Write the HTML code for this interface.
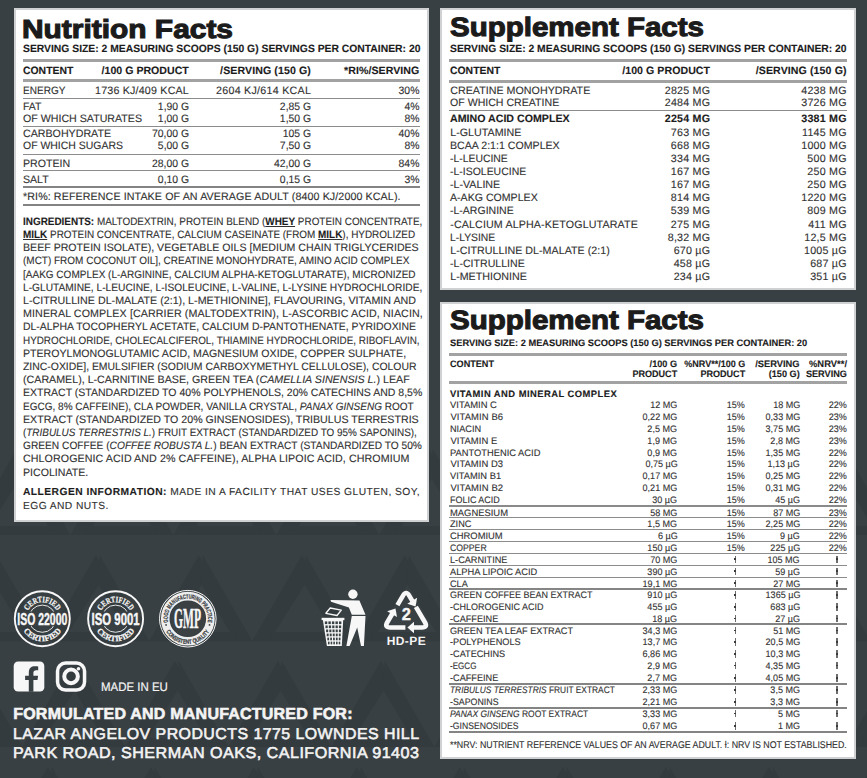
<!DOCTYPE html><html><head><meta charset="utf-8"><title>label</title><style>
*{margin:0;padding:0;box-sizing:border-box}
html,body{width:867px;height:778px;overflow:hidden;background:#394043}
body{position:relative;font-family:"Liberation Sans",sans-serif}
.p{position:absolute;background:#fff;border:2.3px solid #cfd1d2}
.t{position:absolute;white-space:nowrap;line-height:1;transform-origin:0 50%;text-rendering:geometricPrecision}
.t.r{transform-origin:100% 50%}
.t b{color:#1c1c1c}
.t u{text-decoration-thickness:1px;text-underline-offset:1px}
.l{position:absolute}
.dg{position:absolute;width:1.4px;height:7.4px;background:#6e6e6e}
.dg:after{content:"";position:absolute;left:-0.35px;top:2.9px;width:2.2px;height:1.5px;background:#3a3a3a}
svg{position:absolute;overflow:visible}
</style></head><body>
<svg width="867" height="778" viewBox="0 0 867 778" style="left:0;top:0">
<polygon points="16.8,449.0 -32.8,535.0 -15.8,535.0 27.3,466.5" fill="#343b3e"/>
<polygon points="20.8,449.0 70.4,535.0 53.4,535.0 18.8,477.3" fill="#343b3e"/>
<rect x="-15.8" y="526.0" width="69.2" height="9" fill="#343b3e"/>
<polygon points="119.8,449.0 70.2,535.0 87.2,535.0 130.3,466.5" fill="#343b3e"/>
<polygon points="123.8,449.0 173.4,535.0 156.4,535.0 121.8,477.3" fill="#343b3e"/>
<rect x="87.2" y="526.0" width="69.2" height="9" fill="#343b3e"/>
<polygon points="222.8,449.0 173.2,535.0 190.2,535.0 233.3,466.5" fill="#343b3e"/>
<polygon points="226.8,449.0 276.4,535.0 259.4,535.0 224.8,477.3" fill="#343b3e"/>
<rect x="190.2" y="526.0" width="69.2" height="9" fill="#343b3e"/>
<polygon points="325.8,449.0 276.2,535.0 293.2,535.0 336.3,466.5" fill="#343b3e"/>
<polygon points="329.8,449.0 379.4,535.0 362.4,535.0 327.8,477.3" fill="#343b3e"/>
<rect x="293.2" y="526.0" width="69.2" height="9" fill="#343b3e"/>
<polygon points="428.8,449.0 379.2,535.0 396.2,535.0 439.3,466.5" fill="#343b3e"/>
<polygon points="432.8,449.0 482.4,535.0 465.4,535.0 430.8,477.3" fill="#343b3e"/>
<rect x="396.2" y="526.0" width="69.2" height="9" fill="#343b3e"/>
<polygon points="531.8,449.0 482.2,535.0 499.2,535.0 542.3,466.5" fill="#343b3e"/>
<polygon points="535.8,449.0 585.4,535.0 568.4,535.0 533.8,477.3" fill="#343b3e"/>
<rect x="499.2" y="526.0" width="69.2" height="9" fill="#343b3e"/>
<polygon points="634.8,449.0 585.2,535.0 602.2,535.0 645.3,466.5" fill="#343b3e"/>
<polygon points="638.8,449.0 688.4,535.0 671.4,535.0 636.8,477.3" fill="#343b3e"/>
<rect x="602.2" y="526.0" width="69.2" height="9" fill="#343b3e"/>
<polygon points="737.8,449.0 688.2,535.0 705.2,535.0 748.3,466.5" fill="#343b3e"/>
<polygon points="741.8,449.0 791.4,535.0 774.4,535.0 739.8,477.3" fill="#343b3e"/>
<rect x="705.2" y="526.0" width="69.2" height="9" fill="#343b3e"/>
<polygon points="840.8,449.0 791.2,535.0 808.2,535.0 851.3,466.5" fill="#343b3e"/>
<polygon points="844.8,449.0 894.4,535.0 877.4,535.0 842.8,477.3" fill="#343b3e"/>
<rect x="808.2" y="526.0" width="69.2" height="9" fill="#343b3e"/>
<polygon points="-7.2,555.2 -56.8,641.2 -39.8,641.2 3.3,572.7" fill="#343b3e"/>
<polygon points="-3.2,555.2 46.4,641.2 29.4,641.2 -5.2,583.5" fill="#343b3e"/>
<rect x="-39.8" y="632.2" width="69.2" height="9" fill="#343b3e"/>
<polygon points="95.8,555.2 46.2,641.2 63.2,641.2 106.3,572.7" fill="#343b3e"/>
<polygon points="99.8,555.2 149.4,641.2 132.4,641.2 97.8,583.5" fill="#343b3e"/>
<rect x="63.2" y="632.2" width="69.2" height="9" fill="#343b3e"/>
<polygon points="198.8,555.2 149.2,641.2 166.2,641.2 209.3,572.7" fill="#343b3e"/>
<polygon points="202.8,555.2 252.4,641.2 235.4,641.2 200.8,583.5" fill="#343b3e"/>
<rect x="166.2" y="632.2" width="69.2" height="9" fill="#343b3e"/>
<polygon points="301.8,555.2 252.2,641.2 269.2,641.2 312.3,572.7" fill="#343b3e"/>
<polygon points="305.8,555.2 355.4,641.2 338.4,641.2 303.8,583.5" fill="#343b3e"/>
<rect x="269.2" y="632.2" width="69.2" height="9" fill="#343b3e"/>
<polygon points="404.8,555.2 355.2,641.2 372.2,641.2 415.3,572.7" fill="#343b3e"/>
<polygon points="408.8,555.2 458.4,641.2 441.4,641.2 406.8,583.5" fill="#343b3e"/>
<rect x="372.2" y="632.2" width="69.2" height="9" fill="#343b3e"/>
<polygon points="507.8,555.2 458.2,641.2 475.2,641.2 518.3,572.7" fill="#343b3e"/>
<polygon points="511.8,555.2 561.4,641.2 544.4,641.2 509.8,583.5" fill="#343b3e"/>
<rect x="475.2" y="632.2" width="69.2" height="9" fill="#343b3e"/>
<polygon points="610.8,555.2 561.2,641.2 578.2,641.2 621.3,572.7" fill="#343b3e"/>
<polygon points="614.8,555.2 664.4,641.2 647.4,641.2 612.8,583.5" fill="#343b3e"/>
<rect x="578.2" y="632.2" width="69.2" height="9" fill="#343b3e"/>
<polygon points="713.8,555.2 664.2,641.2 681.2,641.2 724.3,572.7" fill="#343b3e"/>
<polygon points="717.8,555.2 767.4,641.2 750.4,641.2 715.8,583.5" fill="#343b3e"/>
<rect x="681.2" y="632.2" width="69.2" height="9" fill="#343b3e"/>
<polygon points="816.8,555.2 767.2,641.2 784.2,641.2 827.3,572.7" fill="#343b3e"/>
<polygon points="820.8,555.2 870.4,641.2 853.4,641.2 818.8,583.5" fill="#343b3e"/>
<rect x="784.2" y="632.2" width="69.2" height="9" fill="#343b3e"/>
<polygon points="919.8,555.2 870.2,641.2 887.2,641.2 930.3,572.7" fill="#343b3e"/>
<polygon points="923.8,555.2 973.4,641.2 956.4,641.2 921.8,583.5" fill="#343b3e"/>
<rect x="887.2" y="632.2" width="69.2" height="9" fill="#343b3e"/>
<polygon points="-31.2,661.0 -80.8,747.0 -63.8,747.0 -20.7,678.5" fill="#343b3e"/>
<polygon points="-27.2,661.0 22.4,747.0 5.4,747.0 -29.2,689.3" fill="#343b3e"/>
<rect x="-63.8" y="738.0" width="69.2" height="9" fill="#343b3e"/>
<polygon points="71.8,661.0 22.2,747.0 39.2,747.0 82.3,678.5" fill="#343b3e"/>
<polygon points="75.8,661.0 125.4,747.0 108.4,747.0 73.8,689.3" fill="#343b3e"/>
<rect x="39.2" y="738.0" width="69.2" height="9" fill="#343b3e"/>
<polygon points="174.8,661.0 125.2,747.0 142.2,747.0 185.3,678.5" fill="#343b3e"/>
<polygon points="178.8,661.0 228.4,747.0 211.4,747.0 176.8,689.3" fill="#343b3e"/>
<rect x="142.2" y="738.0" width="69.2" height="9" fill="#343b3e"/>
<polygon points="277.8,661.0 228.2,747.0 245.2,747.0 288.3,678.5" fill="#343b3e"/>
<polygon points="281.8,661.0 331.4,747.0 314.4,747.0 279.8,689.3" fill="#343b3e"/>
<rect x="245.2" y="738.0" width="69.2" height="9" fill="#343b3e"/>
<polygon points="380.8,661.0 331.2,747.0 348.2,747.0 391.3,678.5" fill="#343b3e"/>
<polygon points="384.8,661.0 434.4,747.0 417.4,747.0 382.8,689.3" fill="#343b3e"/>
<rect x="348.2" y="738.0" width="69.2" height="9" fill="#343b3e"/>
<polygon points="483.8,661.0 434.2,747.0 451.2,747.0 494.3,678.5" fill="#343b3e"/>
<polygon points="487.8,661.0 537.4,747.0 520.4,747.0 485.8,689.3" fill="#343b3e"/>
<rect x="451.2" y="738.0" width="69.2" height="9" fill="#343b3e"/>
<polygon points="586.8,661.0 537.2,747.0 554.2,747.0 597.3,678.5" fill="#343b3e"/>
<polygon points="590.8,661.0 640.4,747.0 623.4,747.0 588.8,689.3" fill="#343b3e"/>
<rect x="554.2" y="738.0" width="69.2" height="9" fill="#343b3e"/>
<polygon points="689.8,661.0 640.2,747.0 657.2,747.0 700.3,678.5" fill="#343b3e"/>
<polygon points="693.8,661.0 743.4,747.0 726.4,747.0 691.8,689.3" fill="#343b3e"/>
<rect x="657.2" y="738.0" width="69.2" height="9" fill="#343b3e"/>
<polygon points="792.8,661.0 743.2,747.0 760.2,747.0 803.3,678.5" fill="#343b3e"/>
<polygon points="796.8,661.0 846.4,747.0 829.4,747.0 794.8,689.3" fill="#343b3e"/>
<rect x="760.2" y="738.0" width="69.2" height="9" fill="#343b3e"/>
<polygon points="895.8,661.0 846.2,747.0 863.2,747.0 906.3,678.5" fill="#343b3e"/>
<polygon points="899.8,661.0 949.4,747.0 932.4,747.0 897.8,689.3" fill="#343b3e"/>
<rect x="863.2" y="738.0" width="69.2" height="9" fill="#343b3e"/>
<polygon points="-55.2,767.0 -104.8,853.0 -87.8,853.0 -44.7,784.5" fill="#343b3e"/>
<polygon points="-51.2,767.0 -1.6,853.0 -18.6,853.0 -53.2,795.3" fill="#343b3e"/>
<rect x="-87.8" y="844.0" width="69.2" height="9" fill="#343b3e"/>
<polygon points="47.8,767.0 -1.8,853.0 15.2,853.0 58.3,784.5" fill="#343b3e"/>
<polygon points="51.8,767.0 101.4,853.0 84.4,853.0 49.8,795.3" fill="#343b3e"/>
<rect x="15.2" y="844.0" width="69.2" height="9" fill="#343b3e"/>
<polygon points="150.8,767.0 101.2,853.0 118.2,853.0 161.3,784.5" fill="#343b3e"/>
<polygon points="154.8,767.0 204.4,853.0 187.4,853.0 152.8,795.3" fill="#343b3e"/>
<rect x="118.2" y="844.0" width="69.2" height="9" fill="#343b3e"/>
<polygon points="253.8,767.0 204.2,853.0 221.2,853.0 264.3,784.5" fill="#343b3e"/>
<polygon points="257.8,767.0 307.4,853.0 290.4,853.0 255.8,795.3" fill="#343b3e"/>
<rect x="221.2" y="844.0" width="69.2" height="9" fill="#343b3e"/>
<polygon points="356.8,767.0 307.2,853.0 324.2,853.0 367.3,784.5" fill="#343b3e"/>
<polygon points="360.8,767.0 410.4,853.0 393.4,853.0 358.8,795.3" fill="#343b3e"/>
<rect x="324.2" y="844.0" width="69.2" height="9" fill="#343b3e"/>
<polygon points="459.8,767.0 410.2,853.0 427.2,853.0 470.3,784.5" fill="#343b3e"/>
<polygon points="463.8,767.0 513.4,853.0 496.4,853.0 461.8,795.3" fill="#343b3e"/>
<rect x="427.2" y="844.0" width="69.2" height="9" fill="#343b3e"/>
<polygon points="562.8,767.0 513.2,853.0 530.2,853.0 573.3,784.5" fill="#343b3e"/>
<polygon points="566.8,767.0 616.4,853.0 599.4,853.0 564.8,795.3" fill="#343b3e"/>
<rect x="530.2" y="844.0" width="69.2" height="9" fill="#343b3e"/>
<polygon points="665.8,767.0 616.2,853.0 633.2,853.0 676.3,784.5" fill="#343b3e"/>
<polygon points="669.8,767.0 719.4,853.0 702.4,853.0 667.8,795.3" fill="#343b3e"/>
<rect x="633.2" y="844.0" width="69.2" height="9" fill="#343b3e"/>
<polygon points="768.8,767.0 719.2,853.0 736.2,853.0 779.3,784.5" fill="#343b3e"/>
<polygon points="772.8,767.0 822.4,853.0 805.4,853.0 770.8,795.3" fill="#343b3e"/>
<rect x="736.2" y="844.0" width="69.2" height="9" fill="#343b3e"/>
<polygon points="871.8,767.0 822.2,853.0 839.2,853.0 882.3,784.5" fill="#343b3e"/>
<polygon points="875.8,767.0 925.4,853.0 908.4,853.0 873.8,795.3" fill="#343b3e"/>
<rect x="839.2" y="844.0" width="69.2" height="9" fill="#343b3e"/>
</svg>
<div class="p" style="left:13.8px;top:8.4px;width:415.2px;height:513.4px"></div>
<div class="p" style="left:440.4px;top:8.4px;width:415.8px;height:281.2px"></div>
<div class="p" style="left:440.4px;top:301.6px;width:415.8px;height:457.0px"></div>
<div class="l" style="left:22.60px;top:58.90px;width:397.80px;height:3.00px;background:#a2a2a2"></div>
<div class="l" style="left:22.60px;top:79.30px;width:397.80px;height:3.00px;background:#a2a2a2"></div>
<div class="l" style="left:22.60px;top:97.70px;width:397.80px;height:1.00px;background:#8c8c8c"></div>
<div class="l" style="left:22.60px;top:126.00px;width:397.80px;height:1.00px;background:#8c8c8c"></div>
<div class="l" style="left:22.60px;top:154.20px;width:397.80px;height:1.00px;background:#8c8c8c"></div>
<div class="l" style="left:22.60px;top:170.20px;width:397.80px;height:1.00px;background:#8c8c8c"></div>
<div class="l" style="left:22.60px;top:186.30px;width:397.80px;height:1.80px;background:#848484"></div>
<div class="l" style="left:22.60px;top:204.30px;width:397.80px;height:1.80px;background:#848484"></div>
<div class="l" style="left:449.30px;top:58.70px;width:397.70px;height:3.00px;background:#a2a2a2"></div>
<div class="l" style="left:449.30px;top:79.80px;width:397.70px;height:3.00px;background:#a2a2a2"></div>
<div class="l" style="left:449.30px;top:110.10px;width:397.70px;height:1.00px;background:#8c8c8c"></div>
<div class="l" style="left:449.30px;top:352.50px;width:397.70px;height:3.00px;background:#a2a2a2"></div>
<div class="l" style="left:449.30px;top:381.00px;width:397.70px;height:3.00px;background:#a2a2a2"></div>
<div class="l" style="left:449.30px;top:505.45px;width:397.70px;height:1.50px;background:#8a8a8a"></div>
<div class="l" style="left:449.30px;top:517.45px;width:397.70px;height:1.00px;background:#8c8c8c"></div>
<div class="l" style="left:449.30px;top:529.15px;width:397.70px;height:1.00px;background:#8c8c8c"></div>
<div class="l" style="left:449.30px;top:541.20px;width:397.70px;height:1.00px;background:#8c8c8c"></div>
<div class="l" style="left:449.30px;top:553.00px;width:397.70px;height:1.00px;background:#8c8c8c"></div>
<div class="l" style="left:449.30px;top:564.95px;width:397.70px;height:1.00px;background:#8c8c8c"></div>
<div class="l" style="left:449.30px;top:576.80px;width:397.70px;height:1.00px;background:#8c8c8c"></div>
<div class="l" style="left:449.30px;top:588.45px;width:397.70px;height:1.60px;background:#858585"></div>
<div class="l" style="left:449.30px;top:623.40px;width:397.70px;height:1.80px;background:#848484"></div>
<div class="l" style="left:449.30px;top:683.20px;width:397.70px;height:1.80px;background:#848484"></div>
<div class="l" style="left:449.30px;top:707.30px;width:397.70px;height:1.80px;background:#848484"></div>
<div class="l" style="left:449.30px;top:730.90px;width:397.70px;height:2.40px;background:#848484"></div>
<div class="t" id="t0" style="top:16.00px;font-size:26.2px;color:#1b1b1b;font-weight:700;-webkit-text-stroke:1.1px #1b1b1b;left:22.40px;transform:scaleX(1.1419)">Nutrition Facts</div>
<div class="t" id="t1" style="top:44.00px;font-size:10.5px;color:#1c1c1c;font-weight:700;-webkit-text-stroke:0.12px #1c1c1c;left:23.00px;transform:scaleX(0.9857)">SERVING SIZE: 2 MEASURING SCOOPS (150 G) SERVINGS PER CONTAINER: 20</div>
<div class="t" id="t2" style="top:66.00px;font-size:10.6px;color:#1c1c1c;font-weight:700;-webkit-text-stroke:0.12px #1c1c1c;left:23.00px;transform:scaleX(0.9824)">CONTENT</div>
<div class="t r" id="t3" style="top:66.00px;font-size:10.6px;color:#1c1c1c;font-weight:700;-webkit-text-stroke:0.12px #1c1c1c;letter-spacing:0.006px;right:678.19px">/100 G PRODUCT</div>
<div class="t r" id="t4" style="top:66.00px;font-size:10.6px;color:#1c1c1c;font-weight:700;-webkit-text-stroke:0.12px #1c1c1c;letter-spacing:0.100px;right:556.00px">/SERVING (150 G)</div>
<div class="t r" id="t5" style="top:66.00px;font-size:10.6px;color:#1c1c1c;font-weight:700;-webkit-text-stroke:0.12px #1c1c1c;letter-spacing:0.066px;right:447.63px">*RI%/SERVING</div>
<div class="t" id="t6" style="top:86.00px;font-size:10.7px;color:#313131;-webkit-text-stroke:0.12px #313131;left:23.00px;transform:scaleX(0.9393)">ENERGY</div>
<div class="t r" id="t7" style="top:86.00px;font-size:10.7px;color:#313131;-webkit-text-stroke:0.12px #313131;letter-spacing:0.192px;right:678.01px">1736 KJ/409 KCAL</div>
<div class="t r" id="t8" style="top:86.00px;font-size:10.7px;color:#313131;-webkit-text-stroke:0.12px #313131;letter-spacing:0.265px;right:555.83px">2604 KJ/614 KCAL</div>
<div class="t r" id="t9" style="top:86.00px;font-size:10.7px;color:#313131;-webkit-text-stroke:0.12px #313131;right:447.70px;transform:scaleX(0.9738)">30%</div>
<div class="t" id="t10" style="top:102.00px;font-size:10.7px;color:#313131;-webkit-text-stroke:0.12px #313131;left:23.00px;transform:scaleX(0.9781)">FAT</div>
<div class="t r" id="t11" style="top:102.00px;font-size:10.7px;color:#313131;-webkit-text-stroke:0.12px #313131;right:678.20px;transform:scaleX(0.9738)">1,90 G</div>
<div class="t r" id="t12" style="top:102.00px;font-size:10.7px;color:#313131;-webkit-text-stroke:0.12px #313131;right:556.10px;transform:scaleX(0.9738)">2,85 G</div>
<div class="t r" id="t13" style="top:102.00px;font-size:10.7px;color:#313131;-webkit-text-stroke:0.12px #313131;right:447.70px;transform:scaleX(0.9738)">4%</div>
<div class="t" id="t14" style="top:114.00px;font-size:10.7px;color:#313131;-webkit-text-stroke:0.12px #313131;left:23.00px;transform:scaleX(0.9954)">OF WHICH SATURATES</div>
<div class="t r" id="t15" style="top:114.00px;font-size:10.7px;color:#313131;-webkit-text-stroke:0.12px #313131;right:678.20px;transform:scaleX(0.9738)">1,00 G</div>
<div class="t r" id="t16" style="top:114.00px;font-size:10.7px;color:#313131;-webkit-text-stroke:0.12px #313131;right:556.10px;transform:scaleX(0.9738)">1,50 G</div>
<div class="t r" id="t17" style="top:114.00px;font-size:10.7px;color:#313131;-webkit-text-stroke:0.12px #313131;right:447.70px;transform:scaleX(0.9738)">8%</div>
<div class="t" id="t18" style="top:129.00px;font-size:10.7px;color:#313131;-webkit-text-stroke:0.12px #313131;left:23.00px;transform:scaleX(0.9968)">CARBOHYDRATE</div>
<div class="t r" id="t19" style="top:129.00px;font-size:10.7px;color:#313131;-webkit-text-stroke:0.12px #313131;right:678.20px;transform:scaleX(0.9738)">70,00 G</div>
<div class="t r" id="t20" style="top:129.00px;font-size:10.7px;color:#313131;-webkit-text-stroke:0.12px #313131;right:556.10px;transform:scaleX(0.9738)">105 G</div>
<div class="t r" id="t21" style="top:129.00px;font-size:10.7px;color:#313131;-webkit-text-stroke:0.12px #313131;right:447.70px;transform:scaleX(0.9738)">40%</div>
<div class="t" id="t22" style="top:141.00px;font-size:10.7px;color:#313131;-webkit-text-stroke:0.12px #313131;left:23.00px;transform:scaleX(0.9790)">OF WHICH SUGARS</div>
<div class="t r" id="t23" style="top:141.00px;font-size:10.7px;color:#313131;-webkit-text-stroke:0.12px #313131;right:678.20px;transform:scaleX(0.9738)">5,00 G</div>
<div class="t r" id="t24" style="top:141.00px;font-size:10.7px;color:#313131;-webkit-text-stroke:0.12px #313131;right:556.10px;transform:scaleX(0.9738)">7,50 G</div>
<div class="t r" id="t25" style="top:141.00px;font-size:10.7px;color:#313131;-webkit-text-stroke:0.12px #313131;right:447.70px;transform:scaleX(0.9738)">8%</div>
<div class="t" id="t26" style="top:159.00px;font-size:10.7px;color:#313131;-webkit-text-stroke:0.12px #313131;left:23.00px;transform:scaleX(0.9934)">PROTEIN</div>
<div class="t r" id="t27" style="top:159.00px;font-size:10.7px;color:#313131;-webkit-text-stroke:0.12px #313131;right:678.20px;transform:scaleX(0.9738)">28,00 G</div>
<div class="t r" id="t28" style="top:159.00px;font-size:10.7px;color:#313131;-webkit-text-stroke:0.12px #313131;right:556.10px;transform:scaleX(0.9738)">42,00 G</div>
<div class="t r" id="t29" style="top:159.00px;font-size:10.7px;color:#313131;-webkit-text-stroke:0.12px #313131;right:447.70px;transform:scaleX(0.9738)">84%</div>
<div class="t" id="t30" style="top:175.00px;font-size:10.7px;color:#313131;-webkit-text-stroke:0.12px #313131;left:23.00px;transform:scaleX(0.9870)">SALT</div>
<div class="t r" id="t31" style="top:175.00px;font-size:10.7px;color:#313131;-webkit-text-stroke:0.12px #313131;right:678.20px;transform:scaleX(0.9738)">0,10 G</div>
<div class="t r" id="t32" style="top:175.00px;font-size:10.7px;color:#313131;-webkit-text-stroke:0.12px #313131;right:556.10px;transform:scaleX(0.9738)">0,15 G</div>
<div class="t r" id="t33" style="top:175.00px;font-size:10.7px;color:#313131;-webkit-text-stroke:0.12px #313131;right:447.70px;transform:scaleX(0.9738)">3%</div>
<div class="t" id="t34" style="top:192.00px;font-size:10.7px;color:#313131;-webkit-text-stroke:0.12px #313131;letter-spacing:0.095px;left:23.00px">*RI%: REFERENCE INTAKE OF AN AVERAGE ADULT (8400 KJ/2000 KCAL).</div>
<div class="t" id="t35" style="top:217.00px;font-size:10.7px;color:#313131;-webkit-text-stroke:0.12px #313131;left:23.00px;transform:scaleX(0.9287)"><b>INGREDIENTS:</b> MALTODEXTRIN, PROTEIN BLEND (<b><u>WHEY</u></b> PROTEIN CONCENTRATE,</div>
<div class="t" id="t36" style="top:230.00px;font-size:10.7px;color:#313131;-webkit-text-stroke:0.12px #313131;left:23.00px;transform:scaleX(0.9283)"><b><u>MILK</u></b> PROTEIN CONCENTRATE, CALCIUM CASEINATE (FROM <b><u>MILK</u></b>), HYDROLIZED</div>
<div class="t" id="t37" style="top:243.00px;font-size:10.7px;color:#313131;-webkit-text-stroke:0.12px #313131;left:23.00px;transform:scaleX(0.9920)">BEEF PROTEIN ISOLATE), VEGETABLE OILS [MEDIUM CHAIN TRIGLYCERIDES</div>
<div class="t" id="t38" style="top:256.00px;font-size:10.7px;color:#313131;-webkit-text-stroke:0.12px #313131;left:23.00px;transform:scaleX(0.9336)">(MCT) FROM COCONUT OIL], CREATINE MONOHYDRATE, AMINO ACID COMPLEX</div>
<div class="t" id="t39" style="top:270.00px;font-size:10.7px;color:#313131;-webkit-text-stroke:0.12px #313131;left:23.00px;transform:scaleX(0.9364)">[AAKG COMPLEX (L-ARGININE, CALCIUM ALPHA-KETOGLUTARATE), MICRONIZED</div>
<div class="t" id="t40" style="top:283.00px;font-size:10.7px;color:#313131;-webkit-text-stroke:0.12px #313131;left:23.00px;transform:scaleX(0.9550)">L-GLUTAMINE, L-LEUCINE, L-ISOLEUCINE, L-VALINE, L-LYSINE HYDROCHLORIDE,</div>
<div class="t" id="t41" style="top:296.00px;font-size:10.7px;color:#313131;-webkit-text-stroke:0.12px #313131;letter-spacing:0.007px;left:23.00px">L-CITRULLINE DL-MALATE (2:1), L-METHIONINE], FLAVOURING, VITAMIN AND</div>
<div class="t" id="t42" style="top:309.00px;font-size:10.7px;color:#313131;-webkit-text-stroke:0.12px #313131;letter-spacing:0.098px;left:23.00px">MINERAL COMPLEX [CARRIER (MALTODEXTRIN), L-ASCORBIC ACID, NIACIN,</div>
<div class="t" id="t43" style="top:322.00px;font-size:10.7px;color:#313131;-webkit-text-stroke:0.12px #313131;left:23.00px;transform:scaleX(0.9765)">DL-ALPHA TOCOPHERYL ACETATE, CALCIUM D-PANTOTHENATE, PYRIDOXINE</div>
<div class="t" id="t44" style="top:336.00px;font-size:10.7px;color:#313131;-webkit-text-stroke:0.12px #313131;left:23.00px;transform:scaleX(0.9245)">HYDROCHLORIDE, CHOLECALCIFEROL, THIAMINE HYDROCHLORIDE, RIBOFLAVIN,</div>
<div class="t" id="t45" style="top:349.00px;font-size:10.7px;color:#313131;-webkit-text-stroke:0.12px #313131;left:23.00px;transform:scaleX(0.9920)">PTEROYLMONOGLUTAMIC ACID, MAGNESIUM OXIDE, COPPER SULPHATE,</div>
<div class="t" id="t46" style="top:362.00px;font-size:10.7px;color:#313131;-webkit-text-stroke:0.12px #313131;left:23.00px;transform:scaleX(0.9754)">ZINC-OXIDE], EMULSIFIER (SODIUM CARBOXYMETHYL CELLULOSE), COLOUR</div>
<div class="t" id="t47" style="top:375.00px;font-size:10.7px;color:#313131;-webkit-text-stroke:0.12px #313131;left:23.00px;transform:scaleX(0.9986)">(CARAMEL), L-CARNITINE BASE, GREEN TEA (<i>CAMELLIA SINENSIS L.</i>) LEAF</div>
<div class="t" id="t48" style="top:388.00px;font-size:10.7px;color:#313131;-webkit-text-stroke:0.12px #313131;left:23.00px;transform:scaleX(0.9844)">EXTRACT (STANDARDIZED TO 40% POLYPHENOLS, 20% CATECHINS AND 8,5%</div>
<div class="t" id="t49" style="top:402.00px;font-size:10.7px;color:#313131;-webkit-text-stroke:0.12px #313131;left:23.00px;transform:scaleX(0.9376)">EGCG, 8% CAFFEINE), CLA POWDER, VANILLA CRYSTAL, <i>PANAX GINSENG</i> ROOT</div>
<div class="t" id="t50" style="top:415.00px;font-size:10.7px;color:#313131;-webkit-text-stroke:0.12px #313131;left:23.00px;transform:scaleX(0.9960)">EXTRACT (STANDARDIZED TO 20% GINSENOSIDES), TRIBULUS TERRESTRIS</div>
<div class="t" id="t51" style="top:428.00px;font-size:10.7px;color:#313131;-webkit-text-stroke:0.12px #313131;left:23.00px;transform:scaleX(0.9272)">(<i>TRIBULUS TERRESTRIS L.</i>) FRUIT EXTRACT (STANDARDIZED TO 95% SAPONINS),</div>
<div class="t" id="t52" style="top:441.00px;font-size:10.7px;color:#313131;-webkit-text-stroke:0.12px #313131;left:23.00px;transform:scaleX(0.9532)">GREEN COFFEE (<i>COFFEE ROBUSTA L.</i>) BEAN EXTRACT (STANDARDIZED TO 50%</div>
<div class="t" id="t53" style="top:454.00px;font-size:10.7px;color:#313131;-webkit-text-stroke:0.12px #313131;letter-spacing:0.074px;left:23.00px">CHLOROGENIC ACID AND 2% CAFFEINE), ALPHA LIPOIC ACID, CHROMIUM</div>
<div class="t" id="t54" style="top:468.00px;font-size:10.7px;color:#313131;-webkit-text-stroke:0.12px #313131;left:23.00px;transform:scaleX(0.9919)">PICOLINATE.</div>
<div class="t" id="t55" style="top:488.00px;font-size:10.25px;color:#313131;-webkit-text-stroke:0.12px #313131;letter-spacing:0.450px;left:23.00px;transform:scaleX(1.0020)"><b>ALLERGEN INFORMATION:</b> MADE IN A FACILITY THAT USES GLUTEN, SOY,</div>
<div class="t" id="t56" style="top:502.00px;font-size:10.25px;color:#313131;-webkit-text-stroke:0.12px #313131;letter-spacing:0.416px;left:23.00px">EGG AND NUTS.</div>
<div class="t" id="t57" style="top:14.00px;font-size:26.6px;color:#1b1b1b;font-weight:700;-webkit-text-stroke:1.1px #1b1b1b;left:450.00px;transform:scaleX(1.1089)">Supplement Facts</div>
<div class="t" id="t58" style="top:44.00px;font-size:10.5px;color:#1c1c1c;font-weight:700;-webkit-text-stroke:0.12px #1c1c1c;left:450.20px;transform:scaleX(0.9837)">SERVING SIZE: 2 MEASURING SCOOPS (150 G) SERVINGS PER CONTAINER: 20</div>
<div class="t" id="t59" style="top:66.00px;font-size:10.6px;color:#1c1c1c;font-weight:700;-webkit-text-stroke:0.12px #1c1c1c;left:450.20px;transform:scaleX(0.9824)">CONTENT</div>
<div class="t r" id="t60" style="top:66.00px;font-size:10.6px;color:#1c1c1c;font-weight:700;-webkit-text-stroke:0.12px #1c1c1c;letter-spacing:0.052px;right:156.95px">/100 G PRODUCT</div>
<div class="t r" id="t61" style="top:66.00px;font-size:10.6px;color:#1c1c1c;font-weight:700;-webkit-text-stroke:0.12px #1c1c1c;letter-spacing:0.100px;right:20.40px">/SERVING (150 G)</div>
<div class="t" id="t62" style="top:86.00px;font-size:10.7px;color:#313131;-webkit-text-stroke:0.12px #313131;letter-spacing:0.019px;left:450.20px">CREATINE MONOHYDRATE</div>
<div class="t r" id="t63" style="top:86.00px;font-size:10.7px;color:#313131;-webkit-text-stroke:0.12px #313131;letter-spacing:0.220px;right:156.78px">2825 MG</div>
<div class="t r" id="t64" style="top:86.00px;font-size:10.7px;color:#313131;-webkit-text-stroke:0.12px #313131;letter-spacing:0.220px;right:20.28px">4238 MG</div>
<div class="t" id="t65" style="top:98.00px;font-size:10.7px;color:#313131;-webkit-text-stroke:0.12px #313131;left:450.20px;transform:scaleX(0.9905)">OF WHICH CREATINE</div>
<div class="t r" id="t66" style="top:98.00px;font-size:10.7px;color:#313131;-webkit-text-stroke:0.12px #313131;letter-spacing:0.220px;right:156.78px">2484 MG</div>
<div class="t r" id="t67" style="top:98.00px;font-size:10.7px;color:#313131;-webkit-text-stroke:0.12px #313131;letter-spacing:0.220px;right:20.28px">3726 MG</div>
<div class="t" id="t68" style="top:114.00px;font-size:10.7px;color:#1c1c1c;font-weight:700;-webkit-text-stroke:0.12px #1c1c1c;left:450.20px;transform:scaleX(0.9955)">AMINO ACID COMPLEX</div>
<div class="t r" id="t69" style="top:114.00px;font-size:10.7px;color:#1c1c1c;font-weight:700;-webkit-text-stroke:0.12px #1c1c1c;letter-spacing:0.220px;right:156.78px">2254 MG</div>
<div class="t r" id="t70" style="top:114.00px;font-size:10.7px;color:#1c1c1c;font-weight:700;-webkit-text-stroke:0.12px #1c1c1c;letter-spacing:0.220px;right:20.28px">3381 MG</div>
<div class="t" id="t71" style="top:128.00px;font-size:10.7px;color:#313131;-webkit-text-stroke:0.12px #313131;letter-spacing:0.014px;left:450.20px">L-GLUTAMINE</div>
<div class="t r" id="t72" style="top:128.00px;font-size:10.7px;color:#313131;-webkit-text-stroke:0.12px #313131;letter-spacing:0.228px;right:156.77px">763 MG</div>
<div class="t r" id="t73" style="top:128.00px;font-size:10.7px;color:#313131;-webkit-text-stroke:0.12px #313131;letter-spacing:0.216px;right:20.28px">1145 MG</div>
<div class="t" id="t74" style="top:141.00px;font-size:10.7px;color:#313131;-webkit-text-stroke:0.12px #313131;left:450.20px;transform:scaleX(0.9928)">BCAA 2:1:1 COMPLEX</div>
<div class="t r" id="t75" style="top:141.00px;font-size:10.7px;color:#313131;-webkit-text-stroke:0.12px #313131;letter-spacing:0.228px;right:156.77px">668 MG</div>
<div class="t r" id="t76" style="top:141.00px;font-size:10.7px;color:#313131;-webkit-text-stroke:0.12px #313131;letter-spacing:0.220px;right:20.28px">1000 MG</div>
<div class="t" id="t77" style="top:154.00px;font-size:10.7px;color:#313131;-webkit-text-stroke:0.12px #313131;left:450.20px;transform:scaleX(0.9715)">-L-LEUCINE</div>
<div class="t r" id="t78" style="top:154.00px;font-size:10.7px;color:#313131;-webkit-text-stroke:0.12px #313131;letter-spacing:0.228px;right:156.77px">334 MG</div>
<div class="t r" id="t79" style="top:154.00px;font-size:10.7px;color:#313131;-webkit-text-stroke:0.12px #313131;letter-spacing:0.228px;right:20.27px">500 MG</div>
<div class="t" id="t80" style="top:167.00px;font-size:10.7px;color:#313131;-webkit-text-stroke:0.12px #313131;left:450.20px;transform:scaleX(0.9793)">-L-ISOLEUCINE</div>
<div class="t r" id="t81" style="top:167.00px;font-size:10.7px;color:#313131;-webkit-text-stroke:0.12px #313131;letter-spacing:0.228px;right:156.77px">167 MG</div>
<div class="t r" id="t82" style="top:167.00px;font-size:10.7px;color:#313131;-webkit-text-stroke:0.12px #313131;letter-spacing:0.228px;right:20.27px">250 MG</div>
<div class="t" id="t83" style="top:180.00px;font-size:10.7px;color:#313131;-webkit-text-stroke:0.12px #313131;left:450.20px;transform:scaleX(0.9981)">-L-VALINE</div>
<div class="t r" id="t84" style="top:180.00px;font-size:10.7px;color:#313131;-webkit-text-stroke:0.12px #313131;letter-spacing:0.228px;right:156.77px">167 MG</div>
<div class="t r" id="t85" style="top:180.00px;font-size:10.7px;color:#313131;-webkit-text-stroke:0.12px #313131;letter-spacing:0.228px;right:20.27px">250 MG</div>
<div class="t" id="t86" style="top:193.00px;font-size:10.7px;color:#313131;-webkit-text-stroke:0.12px #313131;left:450.20px;transform:scaleX(0.9910)">A-AKG COMPLEX</div>
<div class="t r" id="t87" style="top:193.00px;font-size:10.7px;color:#313131;-webkit-text-stroke:0.12px #313131;letter-spacing:0.228px;right:156.77px">814 MG</div>
<div class="t r" id="t88" style="top:193.00px;font-size:10.7px;color:#313131;-webkit-text-stroke:0.12px #313131;letter-spacing:0.220px;right:20.28px">1220 MG</div>
<div class="t" id="t89" style="top:206.00px;font-size:10.7px;color:#313131;-webkit-text-stroke:0.12px #313131;left:450.20px;transform:scaleX(0.9840)">-L-ARGININE</div>
<div class="t r" id="t90" style="top:206.00px;font-size:10.7px;color:#313131;-webkit-text-stroke:0.12px #313131;letter-spacing:0.228px;right:156.77px">539 MG</div>
<div class="t r" id="t91" style="top:206.00px;font-size:10.7px;color:#313131;-webkit-text-stroke:0.12px #313131;letter-spacing:0.228px;right:20.27px">809 MG</div>
<div class="t" id="t92" style="top:220.00px;font-size:10.7px;color:#313131;-webkit-text-stroke:0.12px #313131;letter-spacing:0.129px;left:450.20px">-CALCIUM ALPHA-KETOGLUTARATE</div>
<div class="t r" id="t93" style="top:220.00px;font-size:10.7px;color:#313131;-webkit-text-stroke:0.12px #313131;letter-spacing:0.228px;right:156.77px">275 MG</div>
<div class="t r" id="t94" style="top:220.00px;font-size:10.7px;color:#313131;-webkit-text-stroke:0.12px #313131;letter-spacing:0.223px;right:20.28px">411 MG</div>
<div class="t" id="t95" style="top:233.00px;font-size:10.7px;color:#313131;-webkit-text-stroke:0.12px #313131;left:450.20px;transform:scaleX(0.9672)">L-LYSINE</div>
<div class="t r" id="t96" style="top:233.00px;font-size:10.7px;color:#313131;-webkit-text-stroke:0.12px #313131;letter-spacing:0.205px;right:156.79px">8,32 MG</div>
<div class="t r" id="t97" style="top:233.00px;font-size:10.7px;color:#313131;-webkit-text-stroke:0.12px #313131;letter-spacing:0.205px;right:20.29px">12,5 MG</div>
<div class="t" id="t98" style="top:246.00px;font-size:10.7px;color:#313131;-webkit-text-stroke:0.12px #313131;letter-spacing:0.023px;left:450.20px">L-CITRULLINE DL-MALATE (2:1)</div>
<div class="t r" id="t99" style="top:246.00px;font-size:10.7px;color:#313131;-webkit-text-stroke:0.12px #313131;letter-spacing:0.212px;right:156.79px">670 µG</div>
<div class="t r" id="t100" style="top:246.00px;font-size:10.7px;color:#313131;-webkit-text-stroke:0.12px #313131;letter-spacing:0.206px;right:20.29px">1005 µG</div>
<div class="t" id="t101" style="top:259.00px;font-size:10.7px;color:#313131;-webkit-text-stroke:0.12px #313131;left:450.20px;transform:scaleX(0.9904)">-L-CITRULLINE</div>
<div class="t r" id="t102" style="top:259.00px;font-size:10.7px;color:#313131;-webkit-text-stroke:0.12px #313131;letter-spacing:0.212px;right:156.79px">458 µG</div>
<div class="t r" id="t103" style="top:259.00px;font-size:10.7px;color:#313131;-webkit-text-stroke:0.12px #313131;letter-spacing:0.212px;right:20.29px">687 µG</div>
<div class="t" id="t104" style="top:272.00px;font-size:10.7px;color:#313131;-webkit-text-stroke:0.12px #313131;letter-spacing:0.008px;left:450.20px">L-METHIONINE</div>
<div class="t r" id="t105" style="top:272.00px;font-size:10.7px;color:#313131;-webkit-text-stroke:0.12px #313131;letter-spacing:0.212px;right:156.79px">234 µG</div>
<div class="t r" id="t106" style="top:272.00px;font-size:10.7px;color:#313131;-webkit-text-stroke:0.12px #313131;letter-spacing:0.212px;right:20.29px">351 µG</div>
<div class="t" id="t107" style="top:307.00px;font-size:26.6px;color:#1b1b1b;font-weight:700;-webkit-text-stroke:1.1px #1b1b1b;left:450.00px;transform:scaleX(1.1089)">Supplement Facts</div>
<div class="t" id="t108" style="top:338.00px;font-size:9.4px;color:#1c1c1c;font-weight:700;-webkit-text-stroke:0.12px #1c1c1c;left:450.20px;transform:scaleX(0.9923)">SERVING SIZE: 2 MEASURING SCOOPS (150 G) SERVINGS PER CONTAINER: 20</div>
<div class="t" id="t109" style="top:360.00px;font-size:9.35px;color:#1c1c1c;font-weight:700;-webkit-text-stroke:0.12px #1c1c1c;left:450.20px;transform:scaleX(0.9741)">CONTENT</div>
<div class="t r" id="t110" style="top:360.00px;font-size:9.35px;color:#1c1c1c;font-weight:700;-webkit-text-stroke:0.12px #1c1c1c;right:189.70px;transform:scaleX(0.9781)">/100 G</div>
<div class="t r" id="t111" style="top:370.00px;font-size:9.35px;color:#1c1c1c;font-weight:700;-webkit-text-stroke:0.12px #1c1c1c;right:189.70px;transform:scaleX(0.9696)">PRODUCT</div>
<div class="t r" id="t112" style="top:360.00px;font-size:9.35px;color:#1c1c1c;font-weight:700;-webkit-text-stroke:0.12px #1c1c1c;right:121.90px;transform:scaleX(0.9636)">%NRV**/100 G</div>
<div class="t r" id="t113" style="top:370.00px;font-size:9.35px;color:#1c1c1c;font-weight:700;-webkit-text-stroke:0.12px #1c1c1c;right:121.90px;transform:scaleX(0.9696)">PRODUCT</div>
<div class="t r" id="t114" style="top:360.00px;font-size:9.35px;color:#1c1c1c;font-weight:700;-webkit-text-stroke:0.12px #1c1c1c;right:67.10px;transform:scaleX(0.9959)">/SERVING</div>
<div class="t r" id="t115" style="top:370.00px;font-size:9.35px;color:#1c1c1c;font-weight:700;-webkit-text-stroke:0.12px #1c1c1c;right:67.10px;transform:scaleX(0.9781)">(150 G)</div>
<div class="t r" id="t116" style="top:360.00px;font-size:9.35px;color:#1c1c1c;font-weight:700;-webkit-text-stroke:0.12px #1c1c1c;letter-spacing:0.042px;right:19.96px">%NRV**/</div>
<div class="t r" id="t117" style="top:370.00px;font-size:9.35px;color:#1c1c1c;font-weight:700;-webkit-text-stroke:0.12px #1c1c1c;right:20.00px;transform:scaleX(0.9787)">SERVING</div>
<div class="t" id="t118" style="top:390.00px;font-size:9.3px;color:#1c1c1c;font-weight:700;-webkit-text-stroke:0.12px #1c1c1c;letter-spacing:0.450px;left:450.40px;transform:scaleX(1.0113)">VITAMIN AND MINERAL COMPLEX</div>
<div class="t" id="t119" style="top:401.00px;font-size:9.45px;color:#313131;-webkit-text-stroke:0.12px #313131;left:450.40px;transform:scaleX(0.9975)">VITAMIN C</div>
<div class="t r" id="t120" style="top:401.00px;font-size:9.45px;color:#313131;-webkit-text-stroke:0.12px #313131;right:189.70px;transform:scaleX(0.9561)">12 MG</div>
<div class="t r" id="t121" style="top:401.00px;font-size:9.45px;color:#313131;-webkit-text-stroke:0.12px #313131;right:67.10px;transform:scaleX(0.9561)">18 MG</div>
<div class="t r" id="t122" style="top:401.00px;font-size:9.45px;color:#313131;-webkit-text-stroke:0.12px #313131;right:121.90px;transform:scaleX(0.9561)">15%</div>
<div class="t r" id="t123" style="top:401.00px;font-size:9.45px;color:#313131;-webkit-text-stroke:0.12px #313131;right:20.00px;transform:scaleX(0.9561)">22%</div>
<div class="t" id="t124" style="top:413.00px;font-size:9.45px;color:#313131;-webkit-text-stroke:0.12px #313131;letter-spacing:0.106px;left:450.40px">VITAMIN B6</div>
<div class="t r" id="t125" style="top:413.00px;font-size:9.45px;color:#313131;-webkit-text-stroke:0.12px #313131;right:189.70px;transform:scaleX(0.9561)">0,22 MG</div>
<div class="t r" id="t126" style="top:413.00px;font-size:9.45px;color:#313131;-webkit-text-stroke:0.12px #313131;right:67.10px;transform:scaleX(0.9561)">0,33 MG</div>
<div class="t r" id="t127" style="top:413.00px;font-size:9.45px;color:#313131;-webkit-text-stroke:0.12px #313131;right:121.90px;transform:scaleX(0.9561)">15%</div>
<div class="t r" id="t128" style="top:413.00px;font-size:9.45px;color:#313131;-webkit-text-stroke:0.12px #313131;right:20.00px;transform:scaleX(0.9561)">23%</div>
<div class="t" id="t129" style="top:425.00px;font-size:9.45px;color:#313131;-webkit-text-stroke:0.12px #313131;left:450.40px;transform:scaleX(0.9719)">NIACIN</div>
<div class="t r" id="t130" style="top:425.00px;font-size:9.45px;color:#313131;-webkit-text-stroke:0.12px #313131;right:189.70px;transform:scaleX(0.9561)">2,5 MG</div>
<div class="t r" id="t131" style="top:425.00px;font-size:9.45px;color:#313131;-webkit-text-stroke:0.12px #313131;right:67.10px;transform:scaleX(0.9561)">3,75 MG</div>
<div class="t r" id="t132" style="top:425.00px;font-size:9.45px;color:#313131;-webkit-text-stroke:0.12px #313131;right:121.90px;transform:scaleX(0.9561)">15%</div>
<div class="t r" id="t133" style="top:425.00px;font-size:9.45px;color:#313131;-webkit-text-stroke:0.12px #313131;right:20.00px;transform:scaleX(0.9561)">23%</div>
<div class="t" id="t134" style="top:437.00px;font-size:9.45px;color:#313131;-webkit-text-stroke:0.12px #313131;letter-spacing:0.050px;left:450.40px">VITAMIN E</div>
<div class="t r" id="t135" style="top:437.00px;font-size:9.45px;color:#313131;-webkit-text-stroke:0.12px #313131;right:189.70px;transform:scaleX(0.9561)">1,9 MG</div>
<div class="t r" id="t136" style="top:437.00px;font-size:9.45px;color:#313131;-webkit-text-stroke:0.12px #313131;right:67.10px;transform:scaleX(0.9561)">2,8 MG</div>
<div class="t r" id="t137" style="top:437.00px;font-size:9.45px;color:#313131;-webkit-text-stroke:0.12px #313131;right:121.90px;transform:scaleX(0.9561)">15%</div>
<div class="t r" id="t138" style="top:437.00px;font-size:9.45px;color:#313131;-webkit-text-stroke:0.12px #313131;right:20.00px;transform:scaleX(0.9561)">23%</div>
<div class="t" id="t139" style="top:449.00px;font-size:9.45px;color:#313131;-webkit-text-stroke:0.12px #313131;left:450.40px;transform:scaleX(0.9888)">PANTOTHENIC ACID</div>
<div class="t r" id="t140" style="top:449.00px;font-size:9.45px;color:#313131;-webkit-text-stroke:0.12px #313131;right:189.70px;transform:scaleX(0.9561)">0,9 MG</div>
<div class="t r" id="t141" style="top:449.00px;font-size:9.45px;color:#313131;-webkit-text-stroke:0.12px #313131;right:67.10px;transform:scaleX(0.9561)">1,35 MG</div>
<div class="t r" id="t142" style="top:449.00px;font-size:9.45px;color:#313131;-webkit-text-stroke:0.12px #313131;right:121.90px;transform:scaleX(0.9561)">15%</div>
<div class="t r" id="t143" style="top:449.00px;font-size:9.45px;color:#313131;-webkit-text-stroke:0.12px #313131;right:20.00px;transform:scaleX(0.9561)">22%</div>
<div class="t" id="t144" style="top:460.00px;font-size:9.45px;color:#313131;-webkit-text-stroke:0.12px #313131;letter-spacing:0.048px;left:450.40px">VITAMIN D3</div>
<div class="t r" id="t145" style="top:460.00px;font-size:9.45px;color:#313131;-webkit-text-stroke:0.12px #313131;right:189.70px;transform:scaleX(0.9561)">0,75 µG</div>
<div class="t r" id="t146" style="top:460.00px;font-size:9.45px;color:#313131;-webkit-text-stroke:0.12px #313131;right:67.10px;transform:scaleX(0.9561)">1,13 µG</div>
<div class="t r" id="t147" style="top:460.00px;font-size:9.45px;color:#313131;-webkit-text-stroke:0.12px #313131;right:121.90px;transform:scaleX(0.9561)">15%</div>
<div class="t r" id="t148" style="top:460.00px;font-size:9.45px;color:#313131;-webkit-text-stroke:0.12px #313131;right:20.00px;transform:scaleX(0.9561)">22%</div>
<div class="t" id="t149" style="top:472.00px;font-size:9.45px;color:#313131;-webkit-text-stroke:0.12px #313131;left:450.40px;transform:scaleX(0.9874)">VITAMIN B1</div>
<div class="t r" id="t150" style="top:472.00px;font-size:9.45px;color:#313131;-webkit-text-stroke:0.12px #313131;right:189.70px;transform:scaleX(0.9561)">0,17 MG</div>
<div class="t r" id="t151" style="top:472.00px;font-size:9.45px;color:#313131;-webkit-text-stroke:0.12px #313131;right:67.10px;transform:scaleX(0.9561)">0,25 MG</div>
<div class="t r" id="t152" style="top:472.00px;font-size:9.45px;color:#313131;-webkit-text-stroke:0.12px #313131;right:121.90px;transform:scaleX(0.9561)">15%</div>
<div class="t r" id="t153" style="top:472.00px;font-size:9.45px;color:#313131;-webkit-text-stroke:0.12px #313131;right:20.00px;transform:scaleX(0.9561)">22%</div>
<div class="t" id="t154" style="top:484.00px;font-size:9.45px;color:#313131;-webkit-text-stroke:0.12px #313131;letter-spacing:0.106px;left:450.40px">VITAMIN B2</div>
<div class="t r" id="t155" style="top:484.00px;font-size:9.45px;color:#313131;-webkit-text-stroke:0.12px #313131;right:189.70px;transform:scaleX(0.9561)">0,21 MG</div>
<div class="t r" id="t156" style="top:484.00px;font-size:9.45px;color:#313131;-webkit-text-stroke:0.12px #313131;right:67.10px;transform:scaleX(0.9561)">0,31 MG</div>
<div class="t r" id="t157" style="top:484.00px;font-size:9.45px;color:#313131;-webkit-text-stroke:0.12px #313131;right:121.90px;transform:scaleX(0.9561)">15%</div>
<div class="t r" id="t158" style="top:484.00px;font-size:9.45px;color:#313131;-webkit-text-stroke:0.12px #313131;right:20.00px;transform:scaleX(0.9561)">22%</div>
<div class="t" id="t159" style="top:496.00px;font-size:9.45px;color:#313131;-webkit-text-stroke:0.12px #313131;left:450.40px;transform:scaleX(0.9475)">FOLIC ACID</div>
<div class="t r" id="t160" style="top:496.00px;font-size:9.45px;color:#313131;-webkit-text-stroke:0.12px #313131;right:189.70px;transform:scaleX(0.9561)">30 µG</div>
<div class="t r" id="t161" style="top:496.00px;font-size:9.45px;color:#313131;-webkit-text-stroke:0.12px #313131;right:67.10px;transform:scaleX(0.9561)">45 µG</div>
<div class="t r" id="t162" style="top:496.00px;font-size:9.45px;color:#313131;-webkit-text-stroke:0.12px #313131;right:121.90px;transform:scaleX(0.9561)">15%</div>
<div class="t r" id="t163" style="top:496.00px;font-size:9.45px;color:#313131;-webkit-text-stroke:0.12px #313131;right:20.00px;transform:scaleX(0.9561)">22%</div>
<div class="t" id="t164" style="top:509.00px;font-size:9.45px;color:#313131;-webkit-text-stroke:0.12px #313131;left:450.40px;transform:scaleX(0.9965)">MAGNESIUM</div>
<div class="t r" id="t165" style="top:509.00px;font-size:9.45px;color:#313131;-webkit-text-stroke:0.12px #313131;right:189.70px;transform:scaleX(0.9561)">58 MG</div>
<div class="t r" id="t166" style="top:509.00px;font-size:9.45px;color:#313131;-webkit-text-stroke:0.12px #313131;right:67.10px;transform:scaleX(0.9561)">87 MG</div>
<div class="t r" id="t167" style="top:509.00px;font-size:9.45px;color:#313131;-webkit-text-stroke:0.12px #313131;right:121.90px;transform:scaleX(0.9561)">15%</div>
<div class="t r" id="t168" style="top:509.00px;font-size:9.45px;color:#313131;-webkit-text-stroke:0.12px #313131;right:20.00px;transform:scaleX(0.9561)">23%</div>
<div class="t" id="t169" style="top:520.00px;font-size:9.45px;color:#313131;-webkit-text-stroke:0.12px #313131;left:450.40px;transform:scaleX(0.9713)">ZINC</div>
<div class="t r" id="t170" style="top:520.00px;font-size:9.45px;color:#313131;-webkit-text-stroke:0.12px #313131;right:189.70px;transform:scaleX(0.9561)">1,5 MG</div>
<div class="t r" id="t171" style="top:520.00px;font-size:9.45px;color:#313131;-webkit-text-stroke:0.12px #313131;right:67.10px;transform:scaleX(0.9561)">2,25 MG</div>
<div class="t r" id="t172" style="top:520.00px;font-size:9.45px;color:#313131;-webkit-text-stroke:0.12px #313131;right:121.90px;transform:scaleX(0.9561)">15%</div>
<div class="t r" id="t173" style="top:520.00px;font-size:9.45px;color:#313131;-webkit-text-stroke:0.12px #313131;right:20.00px;transform:scaleX(0.9561)">22%</div>
<div class="t" id="t174" style="top:532.00px;font-size:9.45px;color:#313131;-webkit-text-stroke:0.12px #313131;left:450.40px;transform:scaleX(0.9952)">CHROMIUM</div>
<div class="t r" id="t175" style="top:532.00px;font-size:9.45px;color:#313131;-webkit-text-stroke:0.12px #313131;right:189.70px;transform:scaleX(0.9561)">6 µG</div>
<div class="t r" id="t176" style="top:532.00px;font-size:9.45px;color:#313131;-webkit-text-stroke:0.12px #313131;right:67.10px;transform:scaleX(0.9561)">9 µG</div>
<div class="t r" id="t177" style="top:532.00px;font-size:9.45px;color:#313131;-webkit-text-stroke:0.12px #313131;right:121.90px;transform:scaleX(0.9561)">15%</div>
<div class="t r" id="t178" style="top:532.00px;font-size:9.45px;color:#313131;-webkit-text-stroke:0.12px #313131;right:20.00px;transform:scaleX(0.9561)">22%</div>
<div class="t" id="t179" style="top:544.00px;font-size:9.45px;color:#313131;-webkit-text-stroke:0.12px #313131;left:450.40px;transform:scaleX(0.9207)">COPPER</div>
<div class="t r" id="t180" style="top:544.00px;font-size:9.45px;color:#313131;-webkit-text-stroke:0.12px #313131;right:189.70px;transform:scaleX(0.9561)">150 µG</div>
<div class="t r" id="t181" style="top:544.00px;font-size:9.45px;color:#313131;-webkit-text-stroke:0.12px #313131;right:67.10px;transform:scaleX(0.9561)">225 µG</div>
<div class="t r" id="t182" style="top:544.00px;font-size:9.45px;color:#313131;-webkit-text-stroke:0.12px #313131;right:121.90px;transform:scaleX(0.9561)">15%</div>
<div class="t r" id="t183" style="top:544.00px;font-size:9.45px;color:#313131;-webkit-text-stroke:0.12px #313131;right:20.00px;transform:scaleX(0.9561)">22%</div>
<div class="t" id="t184" style="top:556.00px;font-size:9.45px;color:#313131;-webkit-text-stroke:0.12px #313131;left:450.40px;transform:scaleX(0.9685)">L-CARNITINE</div>
<div class="t r" id="t185" style="top:556.00px;font-size:9.45px;color:#313131;-webkit-text-stroke:0.12px #313131;right:189.70px;transform:scaleX(0.9561)">70 MG</div>
<div class="t r" id="t186" style="top:556.00px;font-size:9.45px;color:#313131;-webkit-text-stroke:0.12px #313131;right:67.10px;transform:scaleX(0.9561)">105 MG</div>
<div class="t" id="t187" style="top:568.00px;font-size:9.45px;color:#313131;-webkit-text-stroke:0.12px #313131;left:450.40px;transform:scaleX(0.9847)">ALPHA LIPOIC ACID</div>
<div class="t r" id="t188" style="top:568.00px;font-size:9.45px;color:#313131;-webkit-text-stroke:0.12px #313131;right:189.70px;transform:scaleX(0.9561)">390 µG</div>
<div class="t r" id="t189" style="top:568.00px;font-size:9.45px;color:#313131;-webkit-text-stroke:0.12px #313131;right:67.10px;transform:scaleX(0.9561)">59 µG</div>
<div class="t" id="t190" style="top:580.00px;font-size:9.45px;color:#313131;-webkit-text-stroke:0.12px #313131;left:450.40px;transform:scaleX(0.9695)">CLA</div>
<div class="t r" id="t191" style="top:580.00px;font-size:9.45px;color:#313131;-webkit-text-stroke:0.12px #313131;right:189.70px;transform:scaleX(0.9561)">19,1 MG</div>
<div class="t r" id="t192" style="top:580.00px;font-size:9.45px;color:#313131;-webkit-text-stroke:0.12px #313131;right:67.10px;transform:scaleX(0.9561)">27 MG</div>
<div class="t" id="t193" style="top:591.00px;font-size:9.45px;color:#313131;-webkit-text-stroke:0.12px #313131;left:450.40px;transform:scaleX(0.9528)">GREEN COFFEE BEAN EXTRACT</div>
<div class="t r" id="t194" style="top:591.00px;font-size:9.45px;color:#313131;-webkit-text-stroke:0.12px #313131;right:189.70px;transform:scaleX(0.9561)">910 µG</div>
<div class="t r" id="t195" style="top:591.00px;font-size:9.45px;color:#313131;-webkit-text-stroke:0.12px #313131;right:67.10px;transform:scaleX(0.9561)">1365 µG</div>
<div class="t" id="t196" style="top:603.00px;font-size:9.45px;color:#313131;-webkit-text-stroke:0.12px #313131;left:450.40px;transform:scaleX(0.9525)">-CHLOROGENIC ACID</div>
<div class="t r" id="t197" style="top:603.00px;font-size:9.45px;color:#313131;-webkit-text-stroke:0.12px #313131;right:189.70px;transform:scaleX(0.9561)">455 µG</div>
<div class="t r" id="t198" style="top:603.00px;font-size:9.45px;color:#313131;-webkit-text-stroke:0.12px #313131;right:67.10px;transform:scaleX(0.9561)">683 µG</div>
<div class="t" id="t199" style="top:615.00px;font-size:9.45px;color:#313131;-webkit-text-stroke:0.12px #313131;left:450.40px;transform:scaleX(0.9696)">-CAFFEINE</div>
<div class="t r" id="t200" style="top:615.00px;font-size:9.45px;color:#313131;-webkit-text-stroke:0.12px #313131;right:189.70px;transform:scaleX(0.9561)">18 µG</div>
<div class="t r" id="t201" style="top:615.00px;font-size:9.45px;color:#313131;-webkit-text-stroke:0.12px #313131;right:67.10px;transform:scaleX(0.9561)">27 µG</div>
<div class="t" id="t202" style="top:627.00px;font-size:9.45px;color:#313131;-webkit-text-stroke:0.12px #313131;left:450.40px;transform:scaleX(0.9704)">GREEN TEA LEAF EXTRACT</div>
<div class="t r" id="t203" style="top:627.00px;font-size:9.45px;color:#313131;-webkit-text-stroke:0.12px #313131;right:189.70px;transform:scaleX(0.9561)">34,3 MG</div>
<div class="t r" id="t204" style="top:627.00px;font-size:9.45px;color:#313131;-webkit-text-stroke:0.12px #313131;right:67.10px;transform:scaleX(0.9561)">51 MG</div>
<div class="t" id="t205" style="top:638.00px;font-size:9.45px;color:#313131;-webkit-text-stroke:0.12px #313131;left:450.40px;transform:scaleX(0.9720)">-POLYPHENOLS</div>
<div class="t r" id="t206" style="top:638.00px;font-size:9.45px;color:#313131;-webkit-text-stroke:0.12px #313131;right:189.70px;transform:scaleX(0.9561)">13,7 MG</div>
<div class="t r" id="t207" style="top:638.00px;font-size:9.45px;color:#313131;-webkit-text-stroke:0.12px #313131;right:67.10px;transform:scaleX(0.9561)">20,5 MG</div>
<div class="t" id="t208" style="top:650.00px;font-size:9.45px;color:#313131;-webkit-text-stroke:0.12px #313131;left:450.40px;transform:scaleX(0.9687)">-CATECHINS</div>
<div class="t r" id="t209" style="top:650.00px;font-size:9.45px;color:#313131;-webkit-text-stroke:0.12px #313131;right:189.70px;transform:scaleX(0.9561)">6,86 MG</div>
<div class="t r" id="t210" style="top:650.00px;font-size:9.45px;color:#313131;-webkit-text-stroke:0.12px #313131;right:67.10px;transform:scaleX(0.9561)">10,3 MG</div>
<div class="t" id="t211" style="top:662.00px;font-size:9.45px;color:#313131;-webkit-text-stroke:0.12px #313131;left:450.40px;transform:scaleX(0.8533)">-EGCG</div>
<div class="t r" id="t212" style="top:662.00px;font-size:9.45px;color:#313131;-webkit-text-stroke:0.12px #313131;right:189.70px;transform:scaleX(0.9561)">2,9 MG</div>
<div class="t r" id="t213" style="top:662.00px;font-size:9.45px;color:#313131;-webkit-text-stroke:0.12px #313131;right:67.10px;transform:scaleX(0.9561)">4,35 MG</div>
<div class="t" id="t214" style="top:674.00px;font-size:9.45px;color:#313131;-webkit-text-stroke:0.12px #313131;left:450.40px;transform:scaleX(0.9696)">-CAFFEINE</div>
<div class="t r" id="t215" style="top:674.00px;font-size:9.45px;color:#313131;-webkit-text-stroke:0.12px #313131;right:189.70px;transform:scaleX(0.9561)">2,7 MG</div>
<div class="t r" id="t216" style="top:674.00px;font-size:9.45px;color:#313131;-webkit-text-stroke:0.12px #313131;right:67.10px;transform:scaleX(0.9561)">4,05 MG</div>
<div class="t" id="t217" style="top:686.00px;font-size:9.45px;color:#313131;-webkit-text-stroke:0.12px #313131;left:450.40px;transform:scaleX(0.8861)"><i>TRIBULUS TERRESTRIS</i> FRUIT EXTRACT</div>
<div class="t r" id="t218" style="top:686.00px;font-size:9.45px;color:#313131;-webkit-text-stroke:0.12px #313131;right:189.70px;transform:scaleX(0.9561)">2,33 MG</div>
<div class="t r" id="t219" style="top:686.00px;font-size:9.45px;color:#313131;-webkit-text-stroke:0.12px #313131;right:67.10px;transform:scaleX(0.9561)">3,5 MG</div>
<div class="t" id="t220" style="top:698.00px;font-size:9.45px;color:#313131;-webkit-text-stroke:0.12px #313131;left:450.40px;transform:scaleX(0.9360)">-SAPONINS</div>
<div class="t r" id="t221" style="top:698.00px;font-size:9.45px;color:#313131;-webkit-text-stroke:0.12px #313131;right:189.70px;transform:scaleX(0.9561)">2,21 MG</div>
<div class="t r" id="t222" style="top:698.00px;font-size:9.45px;color:#313131;-webkit-text-stroke:0.12px #313131;right:67.10px;transform:scaleX(0.9561)">3,3 MG</div>
<div class="t" id="t223" style="top:710.00px;font-size:9.45px;color:#313131;-webkit-text-stroke:0.12px #313131;left:450.40px;transform:scaleX(0.8983)"><i>PANAX GINSENG</i> ROOT EXTRACT</div>
<div class="t r" id="t224" style="top:710.00px;font-size:9.45px;color:#313131;-webkit-text-stroke:0.12px #313131;right:189.70px;transform:scaleX(0.9561)">3,33 MG</div>
<div class="t r" id="t225" style="top:710.00px;font-size:9.45px;color:#313131;-webkit-text-stroke:0.12px #313131;right:67.10px;transform:scaleX(0.9561)">5 MG</div>
<div class="t" id="t226" style="top:722.00px;font-size:9.45px;color:#313131;-webkit-text-stroke:0.12px #313131;left:450.40px;transform:scaleX(0.9133)">-GINSENOSIDES</div>
<div class="t r" id="t227" style="top:722.00px;font-size:9.45px;color:#313131;-webkit-text-stroke:0.12px #313131;right:189.70px;transform:scaleX(0.9561)">0,67 MG</div>
<div class="t r" id="t228" style="top:722.00px;font-size:9.45px;color:#313131;-webkit-text-stroke:0.12px #313131;right:67.10px;transform:scaleX(0.9561)">1 MG</div>
<div class="t" id="t229" style="top:741.00px;font-size:9.8px;color:#313131;-webkit-text-stroke:0.12px #313131;left:450.20px;transform:scaleX(0.9002)">**NRV: NUTRIENT REFERENCE VALUES OF AN AVERAGE ADULT. ƚ: NRV IS NOT ESTABLISHED.</div>
<div class="t" id="t230" style="top:681.00px;font-size:12.3px;color:#f4f4f4;-webkit-text-stroke:0.2px #f4f4f4;left:100.70px;transform:scaleX(0.9310)">MADE IN EU</div>
<div class="t" id="t231" style="top:707.00px;font-size:16.0px;color:#f4f4f4;font-weight:700;-webkit-text-stroke:0.6px #f4f4f4;letter-spacing:0.222px;left:13.20px">FORMULATED AND MANUFACTURED FOR:</div>
<div class="t" id="t232" style="top:727.00px;font-size:15.6px;color:#f4f4f4;-webkit-text-stroke:0.55px #f4f4f4;letter-spacing:0.450px;left:13.20px;transform:scaleX(1.0201)">LAZAR ANGELOV PRODUCTS 1775 LOWNDES HILL</div>
<div class="t" id="t233" style="top:746.00px;font-size:15.6px;color:#f4f4f4;-webkit-text-stroke:0.55px #f4f4f4;letter-spacing:0.450px;left:13.20px;transform:scaleX(1.0355)">PARK ROAD, SHERMAN OAKS, CALIFORNIA 91403</div>
<div class="t" id="t234" style="top:635.00px;font-size:12.0px;color:#f4f4f4;font-weight:700;letter-spacing:0.414px;left:386.70px">HD-PE</div>
<div class="dg" style="left:734.65px;top:555.60px"></div>
<div class="dg" style="left:836.25px;top:555.60px"></div>
<div class="dg" style="left:734.65px;top:567.50px"></div>
<div class="dg" style="left:836.25px;top:567.50px"></div>
<div class="dg" style="left:734.65px;top:579.50px"></div>
<div class="dg" style="left:836.25px;top:579.50px"></div>
<div class="dg" style="left:734.65px;top:591.30px"></div>
<div class="dg" style="left:836.25px;top:591.30px"></div>
<div class="dg" style="left:734.65px;top:603.20px"></div>
<div class="dg" style="left:836.25px;top:603.20px"></div>
<div class="dg" style="left:734.65px;top:614.90px"></div>
<div class="dg" style="left:836.25px;top:614.90px"></div>
<div class="dg" style="left:734.65px;top:627.00px"></div>
<div class="dg" style="left:836.25px;top:627.00px"></div>
<div class="dg" style="left:734.65px;top:638.30px"></div>
<div class="dg" style="left:836.25px;top:638.30px"></div>
<div class="dg" style="left:734.65px;top:650.30px"></div>
<div class="dg" style="left:836.25px;top:650.30px"></div>
<div class="dg" style="left:734.65px;top:662.00px"></div>
<div class="dg" style="left:836.25px;top:662.00px"></div>
<div class="dg" style="left:734.65px;top:674.40px"></div>
<div class="dg" style="left:836.25px;top:674.40px"></div>
<div class="dg" style="left:734.65px;top:686.30px"></div>
<div class="dg" style="left:836.25px;top:686.30px"></div>
<div class="dg" style="left:734.65px;top:698.40px"></div>
<div class="dg" style="left:836.25px;top:698.40px"></div>
<div class="dg" style="left:734.65px;top:710.10px"></div>
<div class="dg" style="left:836.25px;top:710.10px"></div>
<div class="dg" style="left:734.65px;top:722.20px"></div>
<div class="dg" style="left:836.25px;top:722.20px"></div>
<svg width="867" height="778" viewBox="0 0 867 778" style="left:0;top:0">
<g>
<circle cx="42.3" cy="618.7" r="27.5" fill="none" stroke="#f7f7f7" stroke-width="1.9"/>
<circle cx="42.3" cy="618.7" r="13.6" fill="none" stroke="#f7f7f7" stroke-width="0.9"/>
<rect x="22.299999999999997" y="611.5" width="40" height="14.6" fill="#394043"/>
<text x="42.3" y="624.6" text-anchor="middle" font-family="Liberation Sans, sans-serif" font-weight="700" font-size="16.8" fill="#f7f7f7" stroke="#f7f7f7" stroke-width="0.45" textLength="50" lengthAdjust="spacingAndGlyphs">ISO 22000</text>
<path id="i1a" d="M27.73,610.95 A16.5,16.5 0 0 1 56.87,610.95" fill="none"/>
<text font-family="Liberation Serif, serif" font-weight="700" font-size="8.3" fill="#f7f7f7" stroke="#f7f7f7" stroke-width="0.25"><textPath href="#i1a" startOffset="50%" text-anchor="middle" textLength="35" lengthAdjust="spacingAndGlyphs">CERTIFIED</textPath></text>
<path id="i1b" d="M22.35,629.31 A22.6,22.6 0 0 0 62.25,629.31" fill="none"/>
<text font-family="Liberation Serif, serif" font-weight="700" font-size="8.3" fill="#f7f7f7" stroke="#f7f7f7" stroke-width="0.25"><textPath href="#i1b" startOffset="50%" text-anchor="middle" textLength="45" lengthAdjust="spacingAndGlyphs">CERTIFIED</textPath></text>
</g>
<g>
<circle cx="115.6" cy="618.7" r="27.5" fill="none" stroke="#f7f7f7" stroke-width="1.9"/>
<circle cx="115.6" cy="618.7" r="13.6" fill="none" stroke="#f7f7f7" stroke-width="0.9"/>
<rect x="95.6" y="611.5" width="40" height="14.6" fill="#394043"/>
<text x="115.6" y="624.6" text-anchor="middle" font-family="Liberation Sans, sans-serif" font-weight="700" font-size="16.8" fill="#f7f7f7" stroke="#f7f7f7" stroke-width="0.45" textLength="48" lengthAdjust="spacingAndGlyphs">ISO 9001</text>
<path id="i2a" d="M101.03,610.95 A16.5,16.5 0 0 1 130.17,610.95" fill="none"/>
<text font-family="Liberation Serif, serif" font-weight="700" font-size="8.3" fill="#f7f7f7" stroke="#f7f7f7" stroke-width="0.25"><textPath href="#i2a" startOffset="50%" text-anchor="middle" textLength="35" lengthAdjust="spacingAndGlyphs">CERTIFIED</textPath></text>
<path id="i2b" d="M95.65,629.31 A22.6,22.6 0 0 0 135.55,629.31" fill="none"/>
<text font-family="Liberation Serif, serif" font-weight="700" font-size="8.3" fill="#f7f7f7" stroke="#f7f7f7" stroke-width="0.25"><textPath href="#i2b" startOffset="50%" text-anchor="middle" textLength="45" lengthAdjust="spacingAndGlyphs">CERTIFIED</textPath></text>
</g>
<circle cx="187.8" cy="618.7" r="28.3" fill="none" stroke="#f7f7f7" stroke-width="1.0"/>
<circle cx="187.8" cy="618.7" r="22.6" fill="none" stroke="#ededed" stroke-width="8.6"/>
<circle cx="187.8" cy="618.7" r="17.6" fill="#3b4043" stroke="none"/>
<path id="g1" d="M168.48,624.24 A20.1,20.1 0 1 1 207.12,624.24" fill="none"/>
<text font-family="Liberation Sans, sans-serif" font-weight="700" font-size="6.2" fill="#33383b" stroke="#33383b" stroke-width="0.2"><textPath href="#g1" startOffset="50%" text-anchor="middle" textLength="70" lengthAdjust="spacingAndGlyphs">GOOD MANUFACTURING PRACTICE</textPath></text>
<path id="g2" d="M165.55,630.53 A25.2,25.2 0 0 0 210.05,630.53" fill="none"/>
<text font-family="Liberation Sans, sans-serif" font-weight="700" font-size="6.2" fill="#33383b" stroke="#33383b" stroke-width="0.2"><textPath href="#g2" startOffset="50%" text-anchor="middle" textLength="52" lengthAdjust="spacingAndGlyphs">CONSISTENT QUALITY</textPath></text>
<circle cx="166.08" cy="624.93" r="0.9" fill="#3a3f42"/>
<circle cx="209.52" cy="624.93" r="0.9" fill="#3a3f42"/>
<text x="187.60000000000002" y="627.6" text-anchor="middle" font-family="Liberation Serif, serif" font-weight="700" font-size="29" fill="#f7f7f7" stroke="#f7f7f7" stroke-width="0.5" textLength="27" lengthAdjust="spacingAndGlyphs">GMP</text>
<circle cx="352.9" cy="594.3" r="4.7" fill="#f7f7f7"/>
<polygon points="330.5,600.0 359.4,600.4 365.5,614.8 351.8,614.8 348.9,607.6 331.0,601.8" fill="#f7f7f7"/>
<polygon points="351.8,616.0 365.5,616.0 363.9,645.9 361.0,645.9 357.2,627.6 349.6,645.9 346.4,645.9" fill="#f7f7f7"/>
<rect x="321.6" y="617.8" width="22.8" height="2.3" fill="#f7f7f7"/>
<polygon points="322.9,620.1 343.2,620.1 341.8,646.1 326.9,646.1" fill="#f7f7f7"/>
<rect x="324.85" y="621.40" width="2.43" height="2.7" fill="#394043"/>
<rect x="328.38" y="621.40" width="2.43" height="2.7" fill="#394043"/>
<rect x="331.90" y="621.40" width="2.43" height="2.7" fill="#394043"/>
<rect x="335.43" y="621.40" width="2.43" height="2.7" fill="#394043"/>
<rect x="338.95" y="621.40" width="2.43" height="2.7" fill="#394043"/>
<rect x="325.47" y="625.45" width="2.26" height="2.7" fill="#394043"/>
<rect x="328.83" y="625.45" width="2.26" height="2.7" fill="#394043"/>
<rect x="332.19" y="625.45" width="2.26" height="2.7" fill="#394043"/>
<rect x="335.55" y="625.45" width="2.26" height="2.7" fill="#394043"/>
<rect x="338.90" y="625.45" width="2.26" height="2.7" fill="#394043"/>
<rect x="326.10" y="629.50" width="2.09" height="2.7" fill="#394043"/>
<rect x="329.29" y="629.50" width="2.09" height="2.7" fill="#394043"/>
<rect x="332.48" y="629.50" width="2.09" height="2.7" fill="#394043"/>
<rect x="335.66" y="629.50" width="2.09" height="2.7" fill="#394043"/>
<rect x="338.85" y="629.50" width="2.09" height="2.7" fill="#394043"/>
<rect x="326.72" y="633.55" width="1.92" height="2.7" fill="#394043"/>
<rect x="329.74" y="633.55" width="1.92" height="2.7" fill="#394043"/>
<rect x="332.76" y="633.55" width="1.92" height="2.7" fill="#394043"/>
<rect x="335.78" y="633.55" width="1.92" height="2.7" fill="#394043"/>
<rect x="338.80" y="633.55" width="1.92" height="2.7" fill="#394043"/>
<rect x="327.34" y="637.60" width="1.75" height="2.7" fill="#394043"/>
<rect x="330.20" y="637.60" width="1.75" height="2.7" fill="#394043"/>
<rect x="333.05" y="637.60" width="1.75" height="2.7" fill="#394043"/>
<rect x="335.90" y="637.60" width="1.75" height="2.7" fill="#394043"/>
<rect x="338.75" y="637.60" width="1.75" height="2.7" fill="#394043"/>
<rect x="327.97" y="641.65" width="1.58" height="2.7" fill="#394043"/>
<rect x="330.65" y="641.65" width="1.58" height="2.7" fill="#394043"/>
<rect x="333.34" y="641.65" width="1.58" height="2.7" fill="#394043"/>
<rect x="336.02" y="641.65" width="1.58" height="2.7" fill="#394043"/>
<rect x="338.70" y="641.65" width="1.58" height="2.7" fill="#394043"/>
<polygon points="325.9,613.3 330.2,608.0 341.3,610.1 337.0,615.5" fill="none" stroke="#f7f7f7" stroke-width="1.35" stroke-linejoin="round"/>
<path d="M397.42,605.11 L403.01,595.64 Q406.10,590.40 409.19,595.64 L412.45,601.16" fill="none" stroke="#f7f7f7" stroke-width="4.6"/>
<polygon points="407.29,603.63 415.56,606.42 417.11,597.84" fill="#f7f7f7"/>
<path d="M415.86,606.93 L424.91,622.26 Q428.00,627.50 421.92,627.50 L413.00,627.50" fill="none" stroke="#f7f7f7" stroke-width="4.6"/>
<polygon points="414.00,621.80 407.40,627.50 414.00,633.20" fill="#f7f7f7"/>
<path d="M405.40,627.50 L390.28,627.50 Q384.20,627.50 387.29,622.26 L392.59,613.29" fill="none" stroke="#f7f7f7" stroke-width="4.6"/>
<polygon points="396.99,617.05 395.49,608.38 387.17,611.25" fill="#f7f7f7"/>
<text x="406.2" y="619.6" text-anchor="middle" font-family="Liberation Sans, sans-serif" font-weight="700" font-size="16.4" fill="#f7f7f7" stroke="#f7f7f7" stroke-width="0.4">2</text>
<rect x="13.7" y="661.5" width="30.6" height="30.1" rx="4.4" fill="#f7f7f7"/>
<path d="M28.8,691.7 L28.8,680 L25.1,680 L25.1,675.8 L28.8,675.8 L28.8,672.6 C28.8,668.2 31.3,666.3 35,666.3 C36.4,666.3 37.5,666.45 38.2,666.6 L38.2,670.3 C37.7,670.2 37,670.15 36.2,670.15 C34.3,670.15 33.4,670.9 33.4,672.9 L33.4,675.8 L38.1,675.8 L37.5,680 L33.4,680 L33.4,691.7 Z" fill="#394043"/>
<rect x="57.55" y="663.05" width="27.0" height="27.0" rx="8.0" fill="none" stroke="#f7f7f7" stroke-width="3.5"/>
<circle cx="71.05" cy="676.4" r="6.8" fill="none" stroke="#f7f7f7" stroke-width="4.0"/>
<circle cx="78.5" cy="668.7" r="1.8" fill="#f7f7f7"/>
</svg>
</body></html>
